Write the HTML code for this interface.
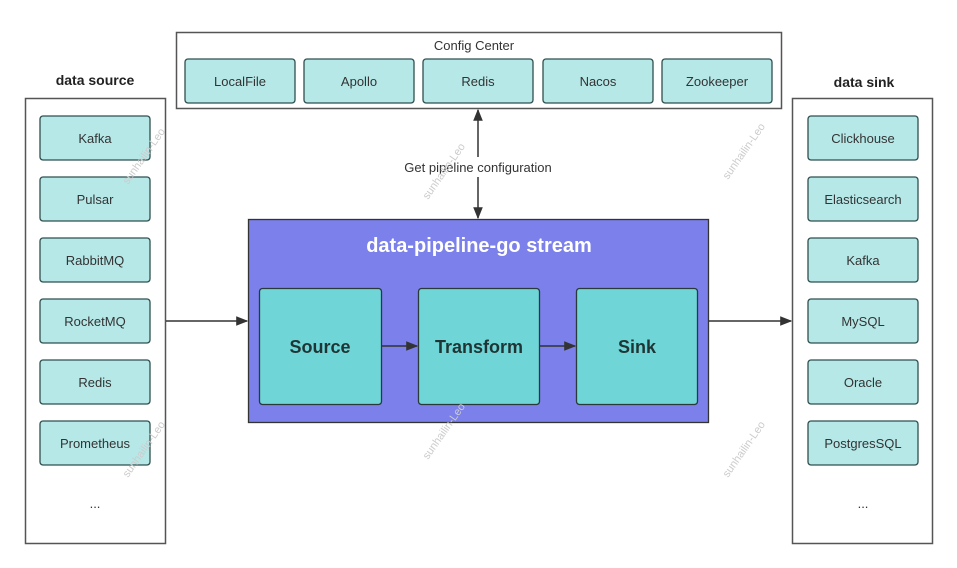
<!DOCTYPE html>
<html><head><meta charset="utf-8"><style>body{margin:0;background:#fff}svg{display:block}text{font-family:"Liberation Sans",sans-serif}</style></head>
<body>
<svg width="957" height="568" viewBox="0 0 957 568" xmlns="http://www.w3.org/2000/svg">
<defs><marker id="a" viewBox="0 0 10 10" refX="9" refY="5" markerWidth="8" markerHeight="8" orient="auto-start-reverse"><path d="M0,1 L10,5 L0,9 z" fill="#333"/></marker></defs>
<rect width="957" height="568" fill="#fff"/>
<text x="95" y="85" font-size="14" font-weight="bold" text-anchor="middle" fill="#222">data source</text>
<text x="864" y="87" font-size="14" font-weight="bold" text-anchor="middle" fill="#222">data sink</text>
<rect x="25.5" y="98.5" width="140" height="445" fill="#fff" stroke="#555" stroke-width="1.5"/>
<rect x="792.5" y="98.5" width="140" height="445" fill="#fff" stroke="#555" stroke-width="1.5"/>
<g fill="#b6e8e8" stroke="#2f4f4f" stroke-width="1.3">
<rect x="40" y="116" width="110" height="44" rx="3"/><rect x="40" y="177" width="110" height="44" rx="3"/><rect x="40" y="238" width="110" height="44" rx="3"/><rect x="40" y="299" width="110" height="44" rx="3"/><rect x="40" y="360" width="110" height="44" rx="3"/><rect x="40" y="421" width="110" height="44" rx="3"/>
<rect x="808" y="116" width="110" height="44" rx="3"/><rect x="808" y="177" width="110" height="44" rx="3"/><rect x="808" y="238" width="110" height="44" rx="3"/><rect x="808" y="299" width="110" height="44" rx="3"/><rect x="808" y="360" width="110" height="44" rx="3"/><rect x="808" y="421" width="110" height="44" rx="3"/>
</g>
<g font-size="13" fill="#333" text-anchor="middle">
<text x="95" y="143">Kafka</text><text x="95" y="204">Pulsar</text><text x="95" y="265">RabbitMQ</text><text x="95" y="326">RocketMQ</text><text x="95" y="387">Redis</text><text x="95" y="448">Prometheus</text><text x="95" y="508">...</text>
<text x="863" y="143">Clickhouse</text><text x="863" y="204">Elasticsearch</text><text x="863" y="265">Kafka</text><text x="863" y="326">MySQL</text><text x="863" y="387">Oracle</text><text x="863" y="448">PostgresSQL</text><text x="863" y="508">...</text>
</g>
<rect x="176.5" y="32.5" width="605" height="76" fill="#fff" stroke="#555" stroke-width="1.5"/>
<text x="474" y="50" font-size="13" text-anchor="middle" fill="#333">Config Center</text>
<g fill="#b6e8e8" stroke="#2f4f4f" stroke-width="1.3">
<rect x="185" y="59" width="110" height="44" rx="3"/><rect x="304" y="59" width="110" height="44" rx="3"/><rect x="423" y="59" width="110" height="44" rx="3"/><rect x="543" y="59" width="110" height="44" rx="3"/><rect x="662" y="59" width="110" height="44" rx="3"/>
</g>
<g font-size="13" fill="#333" text-anchor="middle">
<text x="240" y="86">LocalFile</text><text x="359" y="86">Apollo</text><text x="478" y="86">Redis</text><text x="598" y="86">Nacos</text><text x="717" y="86">Zookeeper</text>
</g>
<line x1="478" y1="110" x2="478" y2="218" stroke="#333" stroke-width="1.5" marker-start="url(#a)" marker-end="url(#a)"/>
<rect x="395" y="157" width="166" height="20" fill="#fff"/>
<text x="478" y="172" font-size="13" text-anchor="middle" fill="#333">Get pipeline configuration</text>
<rect x="248.5" y="219.5" width="460" height="203" fill="#7b80ea" stroke="#333" stroke-width="1.3"/>
<text x="479" y="252" font-size="20" font-weight="bold" text-anchor="middle" fill="#fff">data-pipeline-go stream</text>
<g fill="#6fd5d6" stroke="#2a3a3a" stroke-width="1.3">
<rect x="259.5" y="288.5" width="122" height="116" rx="3"/><rect x="418.5" y="288.5" width="121" height="116" rx="3"/><rect x="576.5" y="288.5" width="121" height="116" rx="3"/>
</g>
<g font-size="18" font-weight="bold" fill="#1f3535" text-anchor="middle">
<text x="320" y="353">Source</text><text x="479" y="353">Transform</text><text x="637" y="353">Sink</text>
</g>
<g stroke="#333" stroke-width="1.5">
<line x1="382" y1="346" x2="417" y2="346" marker-end="url(#a)"/>
<line x1="540" y1="346" x2="575" y2="346" marker-end="url(#a)"/>
<line x1="166" y1="321" x2="247" y2="321" marker-end="url(#a)"/>
<line x1="709" y1="321" x2="791" y2="321" marker-end="url(#a)"/>
</g>
<g font-size="11" fill="#ccc">
<text transform="translate(128,185) rotate(-55)">sunhailin-Leo</text>
<text transform="translate(428,200) rotate(-55)">sunhailin-Leo</text>
<text transform="translate(728,180) rotate(-55)">sunhailin-Leo</text>
<text transform="translate(128,478) rotate(-55)">sunhailin-Leo</text>
<text transform="translate(428,460) rotate(-55)">sunhailin-Leo</text>
<text transform="translate(728,478) rotate(-55)">sunhailin-Leo</text>
</g>
</svg>
</body></html>
